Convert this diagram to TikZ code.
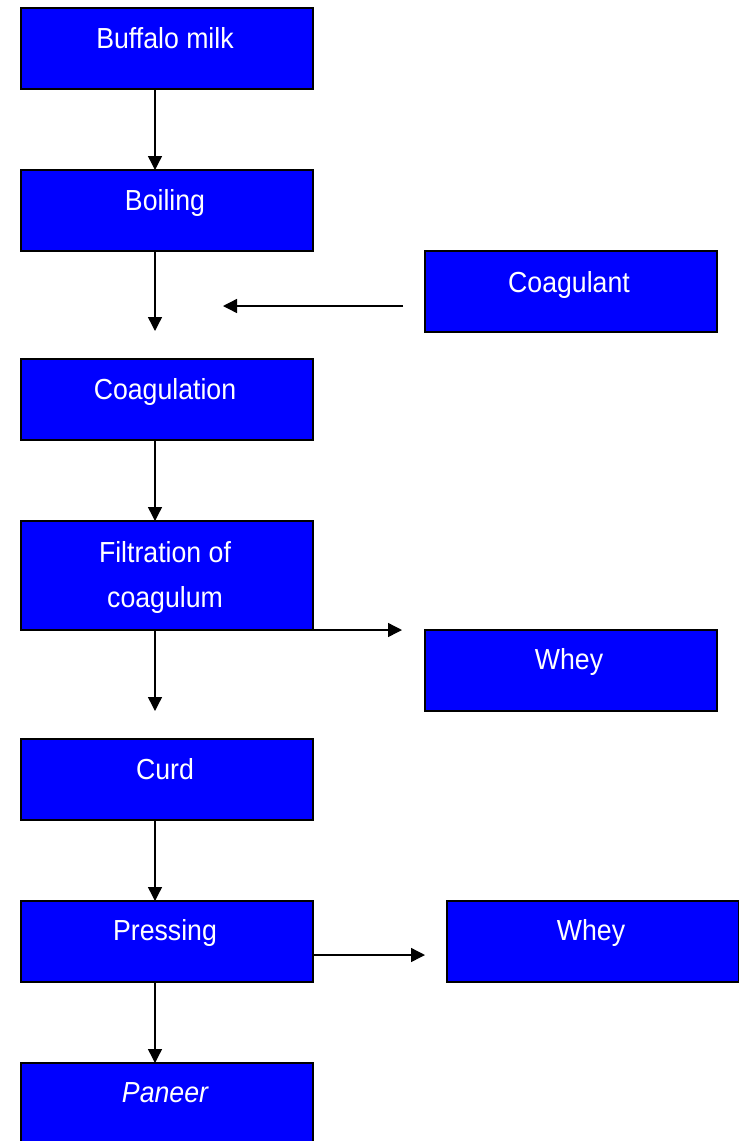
\documentclass[tikz,border=0pt]{standalone}
\usepackage{fontspec}
\setmainfont{Liberation Sans}
\newfontfamily\lblfont[FakeStretch=0.92]{Liberation Sans}
\usetikzlibrary{arrows.meta}
\definecolor{boxblue}{RGB}{0,0,255}
\begin{document}
\begin{tikzpicture}[x=1pt,y=-1pt,
  box/.style={rectangle, draw=black, line width=1.5pt, fill=boxblue, inner sep=0pt,
    outer sep=0pt, anchor=north west, minimum width=292pt, minimum height=81pt},
  lbl/.style={text=white, font=\lblfont\fontsize{29}{45}\selectfont, anchor=base,
    inner sep=0pt, align=center},
  conn/.style={draw=black, line width=1.4pt, -{Triangle[length=14pt,width=14pt]}}]
\clip (0,0) rectangle (739,1141);
\fill[white] (0,0) rectangle (739,1141);
% boxes
\node[box] (milk) at (21,8) {};
\node[box] (boil) at (21,170) {};
\node[box] (coagt) at (425,251) {};
\node[box] (coagn) at (21,359) {};
\node[box, minimum height=109pt] (filt) at (21,521) {};
\node[box] (whey1) at (425,630) {};
\node[box] (curd) at (21,739) {};
\node[box] (press) at (21,901) {};
\node[box] (whey2) at (447,901) {};
\node[box, minimum height=90pt] (paneer) at (21,1063) {};
% labels
\node[lbl] (tmilk) at ([xshift=-2pt,yshift=-40pt]milk.north) {Buffalo milk};
\node[lbl] (tboil) at ([xshift=-2pt,yshift=-40pt]boil.north) {Boiling};
\node[lbl] (tcoagt) at ([xshift=-2pt,yshift=-41pt]coagt.north) {Coagulant};
\node[lbl] (tcoagn) at ([xshift=-2pt,yshift=-40pt]coagn.north) {Coagulation};
\node[lbl] (tfilt1) at ([xshift=-2pt,yshift=-41pt]filt.north) {Filtration of};
\node[lbl] (tfilt2) at ([xshift=-2pt,yshift=-86pt]filt.north) {coagulum};
\node[lbl] (twhey1) at ([xshift=-2pt,yshift=-39pt]whey1.north) {Whey};
\node[lbl] (tcurd) at ([xshift=-2pt,yshift=-40pt]curd.north) {Curd};
\node[lbl] (tpress) at ([xshift=-2pt,yshift=-39pt]press.north) {Pressing};
\node[lbl] (twhey2) at ([xshift=-2pt,yshift=-39pt]whey2.north) {Whey};
\node[lbl] (tpaneer) at ([xshift=-2pt,yshift=-39pt]paneer.north) {\itshape Paneer};
% connector coordinates
\coordinate (ax) at (155,0);
\coordinate (boilend) at (155,331);
\coordinate (coagtail) at (403,306);
\coordinate (coagtip) at (223,306);
\coordinate (filtend) at (155,711);
\coordinate (filtwhey) at (402,630);
\coordinate (presswhey) at (425,955);
% connectors
\draw[conn] (milk.south -| ax) -- (boil.north -| ax);
\draw[conn] (boil.south -| ax) -- (boilend);
\draw[conn] (coagtail) -- (coagtip);
\draw[conn] (coagn.south -| ax) -- (filt.north -| ax);
\draw[conn] (filt.south -| ax) -- (filtend);
\draw[conn] (filt.south east) -- (filtwhey);
\draw[conn] (curd.south -| ax) -- (press.north -| ax);
\draw[conn] (press.east |- presswhey) -- (presswhey);
\draw[conn] (press.south -| ax) -- (paneer.north -| ax);
\end{tikzpicture}
\end{document}
